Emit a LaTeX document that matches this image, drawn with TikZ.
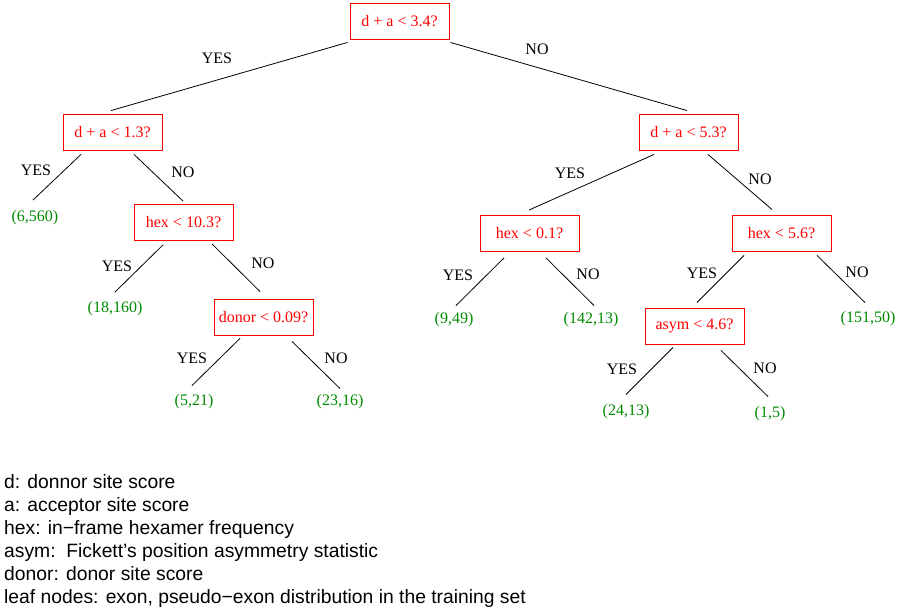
\documentclass[tikz,border=0pt]{standalone}
\usepackage{fontspec}
\setmainfont{Liberation Serif}
\newfontfamily\legendfont{Liberation Sans}
\definecolor{leafgreen}{RGB}{0,139,0}
\begin{document}
\begin{tikzpicture}[x=1pt,y=-1pt,font=\fontsize{16}{19}\selectfont]
  \tikzstyle{test}=[draw=red,text=red,line width=0.9pt,minimum width=99pt,minimum height=36pt,inner sep=0pt]
  \tikzstyle{leaf}=[text=leafgreen,inner sep=0pt]
  \tikzstyle{lab}=[inner sep=0pt]
  \tikzstyle{branch}=[line width=0.8pt]
  \useasboundingbox (0,0) rectangle (900,609);
  % splits
  \node[test] (root) at (399.5,21)   {d + a < 3.4?};
  \node[test] (q1)   at (112.5,132)  {d + a < 1.3?};
  \node[test] (q2)   at (688.5,132)  {d + a < 5.3?};
  \node[test] (q11)  at (183.5,222.5){hex < 10.3?};
  \node[test] (q21)  at (529.5,233.5){hex < 0.1?};
  \node[test] (q22)  at (781.5,233)  {hex < 5.6?};
  \node[test] (q112) at (263.5,317)  {donor < 0.09?};
  \node[test] (q221) at (694.5,326)  {asym < 4.6?};
  % leaves
  \node[leaf] (l1)    at (35,217.5) {(6,560)};
  \node[leaf] (l11)   at (115,309)  {(18,160)};
  \node[leaf] (l1121) at (194,402)  {(5,21)};
  \node[leaf] (l1122) at (340,402)  {(23,16)};
  \node[leaf] (l211)  at (454,320)  {(9,49)};
  \node[leaf] (l212)  at (591,320)  {(142,13)};
  \node[leaf] (l222)  at (868,319)  {(151,50)};
  \node[leaf] (l2211) at (626,412)  {(24,13)};
  \node[leaf] (l2212) at (770,414)  {(1,5)};
  % branches
  \draw[branch] ([shift={(-2,3)}]root.south west) -- ([shift={(-1.5,-3)}]q1.north);
  \draw[branch] ([shift={(1,3)}]root.south east) -- ([shift={(-1.5,-3)}]q2.north);
  \draw[branch] ([shift={(-31.5,4)}]q1.south) -- ([shift={(-2,-10)}]l1.north);
  \draw[branch] ([shift={(21.5,4)}]q1.south) -- ([shift={(-0.5,-3)}]q11.north);
  \draw[branch] ([shift={(-20.5,4)}]q11.south) -- ([shift={(0,-9.5)}]l11.north);
  \draw[branch] ([shift={(28.5,3)}]q11.south) -- ([shift={(-3.5,-7)}]q112.north);
  \draw[branch] ([shift={(-23.5,3)}]q112.south) -- ([shift={(-2,-9)}]l1121.north);
  \draw[branch] ([shift={(28.5,6)}]q112.south) -- ([shift={(0,-6)}]l1122.north);
  \draw[branch] ([shift={(-34.5,4)}]q2.south) -- ([shift={(-0.5,-5)}]q21.north);
  \draw[branch] ([shift={(19.5,4)}]q2.south) -- ([shift={(-9.5,-5)}]q22.north);
  \draw[branch] ([shift={(-25.5,6)}]q21.south) -- ([shift={(2,-7)}]l211.north);
  \draw[branch] ([shift={(16.5,6)}]q21.south) -- ([shift={(3,-7)}]l212.north);
  \draw[branch] ([shift={(-37.5,4)}]q22.south) -- ([shift={(2.5,-5)}]q221.north);
  \draw[branch] ([shift={(35.5,4)}]q22.south) -- ([shift={(-3,-9)}]l222.north);
  \draw[branch] ([shift={(-21.5,3)}]q221.south) -- ([shift={(0,-10)}]l2211.north);
  \draw[branch] ([shift={(26.5,6)}]q221.south) -- ([shift={(-2,-10)}]l2212.north);
  % answers
  \node[lab] (y0)   at (217,58)  {YES};
  \node[lab] (n0)   at (537,49)  {NO};
  \node[lab] (y1)   at (36,170)  {YES};
  \node[lab] (n1)   at (183,172) {NO};
  \node[lab] (y11)  at (117,266) {YES};
  \node[lab] (n11)  at (263,263) {NO};
  \node[lab] (y112) at (192,358) {YES};
  \node[lab] (n112) at (336,358) {NO};
  \node[lab] (y2)   at (570,173) {YES};
  \node[lab] (n2)   at (760,179) {NO};
  \node[lab] (y21)  at (458,275) {YES};
  \node[lab] (n21)  at (588,274) {NO};
  \node[lab] (y22)  at (702,273) {YES};
  \node[lab] (n22)  at (857,272) {NO};
  \node[lab] (y221) at (622,369) {YES};
  \node[lab] (n221) at (765,368) {NO};
  % key
  \node[anchor=north west,inner sep=0pt,align=left,font=\legendfont\fontsize{19.3}{23}\selectfont] (key) at (4,474)
    {d: donnor site score\\
     a: acceptor site score\\
     hex: in−frame hexamer frequency\\
     asym:\ \ Fickett’s position asymmetry statistic\\
     donor: donor site score\\
     leaf nodes: exon, pseudo−exon distribution in the training set};
\end{tikzpicture}
\end{document}
